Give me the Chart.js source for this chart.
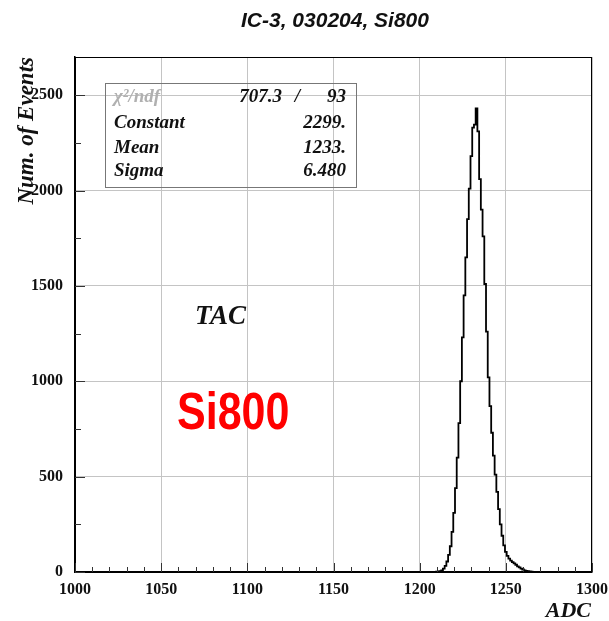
<!DOCTYPE html>
<html><head><meta charset="utf-8">
<script src="https://cdn.jsdelivr.net/npm/chart.js@4"></script>
<style>html,body{margin:0;padding:0;background:#fff;overflow:hidden}</style>
</head><body>
<canvas id="c" width="609" height="621"></canvas>
<script>
// ---- data ----
const binStart = 1205; // ADC value of the first bin, 1 ADC per bin
const counts = [
  0, 0, 0, 1, 1, 2, 3, 5, 9, 18,          // 1205-1214
  32, 55, 90, 135, 210, 310, 440, 600, 780, 1000, // 1215-1224
  1230, 1450, 1650, 1850, 2010, 2180, 2330, 2345, 2430, 2310, // 1225-1234
  2060, 1900, 1760, 1510, 1260, 1020, 870, 730, 610, 510, // 1235-1244
  420, 330, 250, 190, 140, 105, 85, 70, 60, 52,   // 1245-1254
  45, 38, 30, 24, 18, 13, 9, 6, 4, 3,             // 1255-1264
  2, 1, 1, 0, 0, 0                                 // 1265-1270
];
const xTicks = [1000, 1050, 1100, 1150, 1200, 1250, 1300];
const yTicks = [0, 500, 1000, 1500, 2000, 2500];
const xRange = [1000, 1300];
const yRange = [0, 2700];
const chartTitle = 'IC-3, 030204, Si800';
const xTitle = 'ADC';
const yTitle = 'Num. of Events';
const statLabels = ['\u03C7\u00B2/ndf', 'Constant', 'Mean', 'Sigma'];
const statValues = ['707.3', '2299.', '1233.', '6.480'];
const statNdf = '93';
const noteTAC = 'TAC';
const noteSi = 'Si800';

const points = counts.map((c, i) => ({ x: binStart + i, y: c }));

const SERIF = '"Liberation Serif", "DejaVu Serif", serif';
const SANS = '"Liberation Sans", Arial, sans-serif';

const overlay = {
  id: 'overlay',
  afterDraw(chart) {
    const ctx = chart.ctx;
    const a = chart.chartArea;
    const xs = chart.scales.x, ys = chart.scales.y;
    ctx.save();
    // frame
    ctx.strokeStyle = '#000';
    ctx.lineWidth = 1;
    ctx.strokeRect(a.left + 0.5, a.top + 0.5, a.right - a.left - 1, a.bottom - a.top);
    // minor ticks
    ctx.strokeStyle = '#333';
    ctx.beginPath();
    for (let v = xRange[0]; v <= xRange[1]; v += 10) {
      const px = Math.round(xs.getPixelForValue(v)) + 0.5;
      const len = (v % 50 === 0) ? 9 : 5;
      ctx.moveTo(px, a.bottom); ctx.lineTo(px, a.bottom - len);
    }
    for (let v = 0; v <= yRange[1]; v += 250) {
      const py = Math.round(ys.getPixelForValue(v)) + 0.5;
      const len = (v % 500 === 0) ? 10 : 6;
      ctx.moveTo(a.left, py); ctx.lineTo(a.left + len, py);
    }
    ctx.stroke();

    // title
    ctx.fillStyle = '#111';
    ctx.font = 'italic bold 21px ' + SANS;
    ctx.textAlign = 'center';
    ctx.textBaseline = 'alphabetic';
    ctx.fillText(chartTitle, 335, 27);

    // y title
    ctx.save();
    ctx.translate(33, 57);
    ctx.rotate(-Math.PI / 2);
    ctx.font = 'italic bold 23px ' + SERIF;
    ctx.textAlign = 'right';
    ctx.fillText(yTitle, 0, 0);
    ctx.restore();

    // x title
    ctx.font = 'italic bold 22px ' + SERIF;
    ctx.textAlign = 'right';
    ctx.fillText(xTitle, 591, 617);

    // stats box
    ctx.strokeStyle = '#777';
    ctx.lineWidth = 1;
    ctx.strokeRect(105.5, 83.5, 251, 104);
    ctx.font = 'italic bold 19px ' + SERIF;
    const rows = [102, 128, 153, 176];
    for (let i = 0; i < statLabels.length; i++) {
      ctx.fillStyle = i === 0 ? '#b0b0b0' : '#111';
      ctx.textAlign = 'left';
      ctx.fillText(statLabels[i], 114, rows[i]);
      ctx.fillStyle = '#111';
      ctx.textAlign = 'right';
      if (i === 0) {
        ctx.fillText(statValues[i], 282, rows[i]);
        ctx.fillText('/', 300, rows[i]);
        ctx.fillText(statNdf, 346, rows[i]);
      } else {
        ctx.fillText(statValues[i], 346, rows[i]);
      }
    }

    // TAC
    ctx.fillStyle = '#111';
    ctx.textAlign = 'left';
    ctx.font = 'italic bold 27px ' + SERIF;
    ctx.fillText(noteTAC, 195, 324);

    // Si800
    ctx.save();
    ctx.translate(177, 429);
    ctx.scale(1, 1.22);
    ctx.fillStyle = '#ff0000';
    ctx.font = 'bold 43px ' + SANS;
    ctx.fillText(noteSi, 0, 0);
    ctx.restore();

    ctx.restore();
  }
};

new Chart(document.getElementById('c'), {
  type: 'line',
  data: {
    datasets: [{
      data: points,
      borderColor: '#000',
      borderWidth: 1.8,
      pointRadius: 0,
      fill: false,
      stepped: 'middle',
      tension: 0
    }]
  },
  options: {
    responsive: false,
    animation: false,
    layout: { padding: { top: 57, right: 17, left: 0, bottom: 0 } },
    plugins: { legend: { display: false }, tooltip: { enabled: false }, title: { display: false } },
    scales: {
      x: {
        type: 'linear',
        min: xRange[0], max: xRange[1],
        afterFit(s) { s.height = 49; s.paddingLeft = 0; s.paddingRight = 0; },
        afterBuildTicks(s) { s.ticks = xTicks.map(v => ({ value: v })); },
        grid: { color: '#c4c4c4', lineWidth: 1, drawTicks: false },
        border: { display: true, color: '#000', width: 1.5 },
        ticks: {
          padding: 8,
          color: '#111',
          font: { family: SERIF, size: 16, weight: 'bold' },
          maxRotation: 0,
          callback: v => String(v)
        }
      },
      y: {
        type: 'linear',
        min: yRange[0], max: yRange[1],
        afterFit(s) { s.width = 75; s.paddingTop = 0; s.paddingBottom = 0; },
        afterBuildTicks(s) { s.ticks = yTicks.map(v => ({ value: v })); },
        grid: { color: '#c4c4c4', lineWidth: 1, drawTicks: false },
        border: { display: true, color: '#000', width: 1.5 },
        ticks: {
          padding: 12,
          color: '#111',
          font: { family: SERIF, size: 16, weight: 'bold' },
          callback: v => String(v)
        }
      }
    }
  },
  plugins: [overlay]
});
</script>
</body></html>
